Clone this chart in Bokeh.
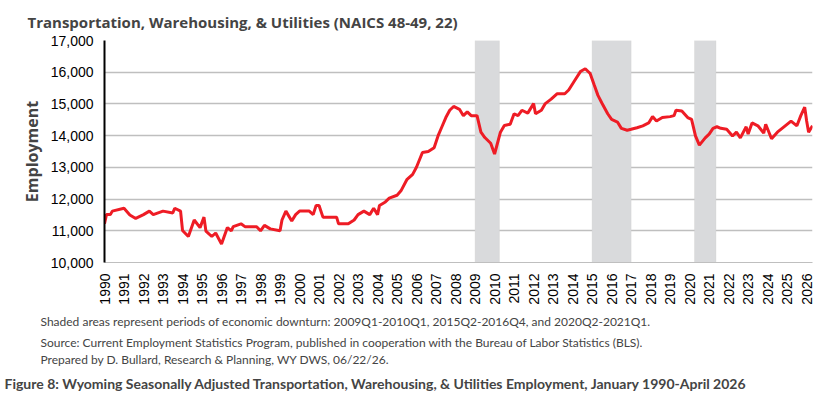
from bokeh.plotting import figure
from bokeh.models import BoxAnnotation, Title, NumeralTickFormatter, FixedTicker
from bokeh.embed import file_html
from bokeh.resources import INLINE
import math

t = [1990.0,1990.1,1990.3,1990.4,1991.0,1991.3,1991.6,1992.0,1992.3,1992.5,1993.0,1993.5,1993.6,1993.9,
     1994.0,1994.3,1994.6,1994.9,1995.1,1995.2,1995.5,1995.7,1996.0,1996.3,1996.5,1996.6,1997.0,1997.2,
     1997.8,1998.0,1998.2,1998.5,1999.0,1999.1,1999.3,1999.6,1999.8,2000.0,2000.5,2000.7,2000.85,2001.0,
     2001.2,2001.9,2002.0,2002.5,2002.8,2003.0,2003.3,2003.6,2003.8,2004.0,2004.1,2004.4,2004.6,2005.0,
     2005.2,2005.5,2005.8,2006.0,2006.3,2006.6,2006.9,2007.1,2007.3,2007.5,2007.7,2007.9,2008.2,2008.4,
     2008.6,2008.8,2009.1,2009.3,2009.5,2009.8,2010.0,2010.1,2010.3,2010.5,2010.8,2011.0,2011.2,2011.4,
     2011.7,2012.0,2012.1,2012.4,2012.6,2012.9,2013.2,2013.6,2013.8,2014.1,2014.4,2014.65,2014.9,2015.1,
     2015.3,2015.5,2015.8,2016.0,2016.3,2016.5,2016.8,2017.0,2017.3,2017.6,2017.9,2018.1,2018.3,2018.6,
     2019.0,2019.2,2019.3,2019.6,2019.9,2020.1,2020.3,2020.5,2020.8,2021.0,2021.2,2021.4,2021.6,2021.9,
     2022.2,2022.4,2022.6,2022.9,2023.0,2023.2,2023.5,2023.8,2023.9,2024.2,2024.5,2024.9,2025.2,2025.5,
     2025.7,2025.9,2026.0,2026.1,2026.3]
employment = [11220,11510,11510,11620,11710,11500,11390,11510,11620,11510,11620,11560,11710,11620,
     11010,10820,11340,11100,11430,10990,10820,10930,10580,11100,11000,11130,11220,11130,
     11130,11000,11170,11060,11000,11340,11620,11310,11510,11620,11620,11510,11800,11800,
     11430,11430,11220,11220,11340,11510,11620,11510,11710,11510,11800,11910,12030,12120,
     12260,12610,12780,13010,13470,13500,13620,13990,14280,14570,14800,14920,14830,14630,
     14750,14630,14630,14110,13940,13760,13420,13650,14110,14320,14360,14690,14630,14800,
     14710,15010,14690,14800,15010,15150,15320,15320,15440,15730,16020,16110,15960,15610,
     15270,15030,14690,14510,14430,14230,14170,14200,14250,14310,14400,14600,14460,14570,
     14600,14630,14800,14780,14570,14510,13990,13700,13930,14050,14230,14280,14230,14200,
     13990,14110,13930,14280,14050,14400,14310,14080,14360,13900,14110,14310,14460,14310,
     14630,14900,14460,14110,14310]
years = list(range(1990, 2027))
recessions = [(2009.0, 2010.25), (2015.0, 2017.0), (2020.25, 2021.35)]

p = figure(width=824, height=397, output_backend="svg", toolbar_location=None,
           x_range=(1990, 2026.3), y_range=(10000, 17000),
           min_border_left=104, min_border_right=12, min_border_top=24)
p.outline_line_color = None
for a, b in recessions:
    p.add_layout(BoxAnnotation(left=a, right=b, fill_color="#d9dadc", fill_alpha=1, level="underlay"))
p.line(t, employment, line_color="#ee1c25", line_width=3)

p.xgrid.grid_line_color = None
p.ygrid.grid_line_color = "#bfbfbf"
p.ygrid.grid_line_width = 1.5
p.yaxis.ticker = FixedTicker(ticks=list(range(10000, 17001, 1000)))
p.yaxis.formatter = NumeralTickFormatter(format="0,0")
p.xaxis.ticker = FixedTicker(ticks=years)
p.xaxis.major_label_orientation = math.pi / 2
for ax in (p.xaxis, p.yaxis):
    ax.major_label_text_font = "Liberation Sans"
    ax.major_label_text_font_size = "14px"
    ax.major_label_text_color = "black"
    ax.major_tick_line_color = None
    ax.minor_tick_line_color = None
p.xaxis.axis_line_color = "#bfbfbf"
p.yaxis.axis_line_color = "black"
p.yaxis.axis_line_width = 2
p.yaxis.axis_label = "Employment"
p.yaxis.axis_label_text_font = "Open Sans"
p.yaxis.axis_label_text_font_style = "bold"
p.yaxis.axis_label_text_font_size = "16px"

p.title.text = "Transportation, Warehousing, & Utilities (NAICS 48-49, 22)"
p.title.text_font = "Open Sans"
p.title.text_font_size = "15px"
p.title.text_font_style = "bold"
p.title.offset = -77
p.title.standoff = 18

notes = ["Shaded areas represent periods of economic downturn: 2009Q1-2010Q1, 2015Q2-2016Q4, and 2020Q2-2021Q1.",
         "Source: Current Employment Statistics Program, published in cooperation with the Bureau of Labor Statistics (BLS).",
         "Prepared by D. Bullard, Research & Planning, WY DWS, 06/22/26."]
for i, n in enumerate(notes):
    tt = Title(text=n, align="left", offset=-64, text_font="Lato", text_font_size="12px",
               text_font_style="normal", standoff=0)
    if i == 0:
        tt.standoff = 8
    p.add_layout(tt, "below")
cap = Title(text="Figure 8: Wyoming Seasonally Adjusted Transportation, Warehousing, & Utilities Employment, January 1990-April 2026",
            align="left", offset=-100, text_font="Lato", text_font_size="14px", text_font_style="bold", standoff=12)
p.add_layout(cap, "below")

open("out.html", "w").write(file_html(p, INLINE))
